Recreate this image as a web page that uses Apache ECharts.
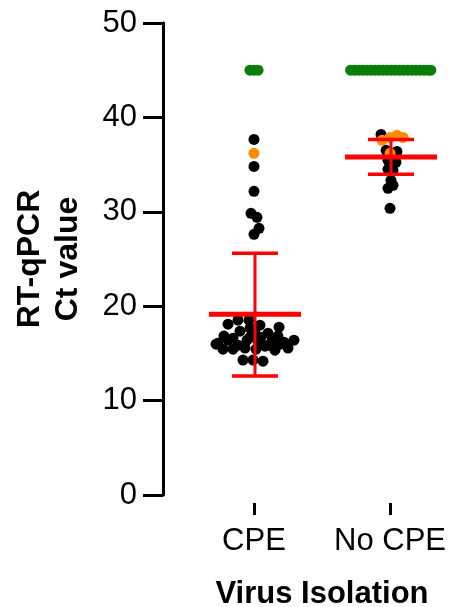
<!DOCTYPE html>
<html lang="en">
<head>
  <meta charset="UTF-8">
  <title>Virus isolation Ct</title>
  <style>
    html, body { margin: 0; padding: 0; background: #fff; }
    #main { width: 474px; height: 607px; }
  </style>
</head>
<body>
  <div id="main"></div>
</body>
<script src="https://cdn.jsdelivr.net/npm/echarts@6/dist/echarts.min.js"></script>
<script>
  var chart = echarts.init(document.getElementById('main'));

  // groups on the x axis
  var categories = ['CPE', 'No CPE'];

  // each point: [horizontal jitter (category units), Ct value]
  var cpeBlack = [
    [0, 37.67], [0, 34.81], [0, 32.17], [-0.022, 29.84], [0.022, 29.42], [0.037, 28.25], [0, 27.62],
    [-0.191, 18.10], [-0.118, 18.52], [-0.037, 18.52], [0.044, 17.99], [0.184, 17.78], [-0.103, 17.35],
    [-0.029, 17.67], [0.103, 17.14], [-0.221, 16.83], [-0.029, 16.72], [-0.265, 16.08], [-0.191, 16.40],
    [-0.118, 15.87], [-0.051, 16.40], [0.029, 16.30], [0.132, 16.30], [0.221, 16.19], [0.294, 16.40],
    [-0.228, 15.45], [-0.154, 15.45], [-0.066, 15.56], [0.015, 15.45], [0.081, 15.77], [0.154, 15.34],
    [0.250, 15.56], [-0.081, 14.29], [-0.007, 14.29], [0.066, 14.18], [-0.154, 16.61], [0.051, 16.72],
    [0.176, 16.83], [0.007, 17.14], [-0.279, 15.98], [0.191, 15.98], [0.103, 15.87]
  ];
  var cpeOrange = [[0, 36.19]];
  var cpeGreen = [[-0.03, 45], [0, 45], [0.03, 45]];

  var noCpeBlack = [
    [-0.066, 38.20], [-0.029, 36.51], [0.051, 36.40], [-0.015, 35.45], [0.044, 35.24], [-0.015, 34.50],
    [0.022, 34.39], [0.007, 33.33], [0.022, 32.80], [-0.015, 32.49], [0, 30.37]
  ];
  var noCpeOrange = [[-0.059, 37.57], [0, 37.88], [0.051, 38.10], [0.096, 37.88], [0, 36.19]];
  var noCpeGreen = [
    [-0.29, 45], [-0.26, 45], [-0.23, 45], [-0.20, 45], [-0.17, 45], [-0.14, 45], [-0.11, 45],
    [-0.08, 45], [-0.05, 45], [-0.02, 45], [0.01, 45], [0.04, 45], [0.07, 45], [0.10, 45],
    [0.13, 45], [0.16, 45], [0.19, 45], [0.22, 45], [0.25, 45], [0.28, 45], [0.30, 45]
  ];

  // mean and +/- SD per group
  var means = [19.15, 35.8];
  var sdUpper = [25.6, 37.67];
  var sdLower = [12.6, 33.97];

  var yTicks = [0, 10, 20, 30, 40, 50];

  var font = "'Liberation Sans', Arial, sans-serif";

  function place(catIndex, pts) {
    return pts.map(function (p) { return [catIndex + p[0], p[1]]; });
  }

  var errData = categories.map(function (c, i) {
    return [i, means[i], sdUpper[i], sdLower[i]];
  });

  function renderErr(params, api) {
    var x = api.value(0);
    var pm = api.coord([x, api.value(1)]);
    var ph = api.coord([x, api.value(2)]);
    var pl = api.coord([x, api.value(3)]);
    var red = '#ff0000';
    var cx = pm[0] + 1;
    return {
      type: 'group',
      children: [
        { type: 'line', shape: { x1: cx, y1: ph[1], x2: cx, y2: pl[1] }, style: { stroke: red, lineWidth: 3 } },
        { type: 'line', shape: { x1: cx - 23, y1: ph[1], x2: cx + 23, y2: ph[1] }, style: { stroke: red, lineWidth: 3.5 } },
        { type: 'line', shape: { x1: cx - 23, y1: pl[1], x2: cx + 23, y2: pl[1] }, style: { stroke: red, lineWidth: 3.5 } },
        { type: 'line', shape: { x1: cx - 46, y1: pm[1], x2: cx + 46, y2: pm[1] }, style: { stroke: red, lineWidth: 5 } }
      ]
    };
  }

  var dot = 11;

  var option = {
    animation: false,
    backgroundColor: '#fff',
    grid: { left: 163, right: -7, top: 23, bottom: 112, containLabel: false, outerBoundsMode: 'none' },
    xAxis: {
      type: 'value',
      min: -0.669,
      max: 1.669,
      offset: 8,
      name: 'Virus Isolation',
      nameLocation: 'middle',
      nameGap: 76,
      nameMoveOverlap: false,
      nameTextStyle: { fontFamily: font, fontSize: 31, fontWeight: 'bold', color: '#000' },
      axisLine: { show: false, onZero: false },
      axisTick: { show: true, customValues: [0, 1], length: 12, lineStyle: { width: 3, color: '#000' } },
      axisLabel: {
        customValues: [0, 1],
        margin: 23,
        fontFamily: font, fontSize: 31, color: '#000',
        formatter: function (v) { return categories[Math.round(v)]; }
      },
      splitLine: { show: false }
    },
    yAxis: {
      type: 'value',
      min: yTicks[0],
      max: yTicks[yTicks.length - 1],
      interval: 10,
      name: 'RT-qPCR\nCt value',
      nameLocation: 'middle',
      nameGap: 76,
      nameMoveOverlap: false,
      nameTextStyle: { fontFamily: font, fontSize: 32, fontWeight: 'bold', color: '#000', lineHeight: 38 },
      axisLine: { show: true, onZero: false, lineStyle: { width: 3, color: '#000' } },
      axisTick: { show: true, length: 20, lineStyle: { width: 3, color: '#000' } },
      axisLabel: { margin: 26, fontFamily: font, fontSize: 31, color: '#000' },
      splitLine: { show: false }
    },
    series: [
      {
        type: 'scatter', symbolSize: dot, itemStyle: { color: '#0a7d0a', opacity: 1 },
        data: place(0, cpeGreen).concat(place(1, noCpeGreen))
      },
      {
        type: 'scatter', symbolSize: dot, itemStyle: { color: '#000', opacity: 1 },
        data: place(0, cpeBlack).concat(place(1, noCpeBlack))
      },
      {
        type: 'scatter', symbolSize: dot, itemStyle: { color: '#ff8c00', opacity: 1 },
        data: place(0, cpeOrange).concat(place(1, noCpeOrange))
      },
      {
        type: 'custom', renderItem: renderErr, data: errData, z: 10,
        encode: { x: 0, y: [1, 2, 3] }
      }
    ]
  };

  chart.setOption(option);
</script>
</html>
